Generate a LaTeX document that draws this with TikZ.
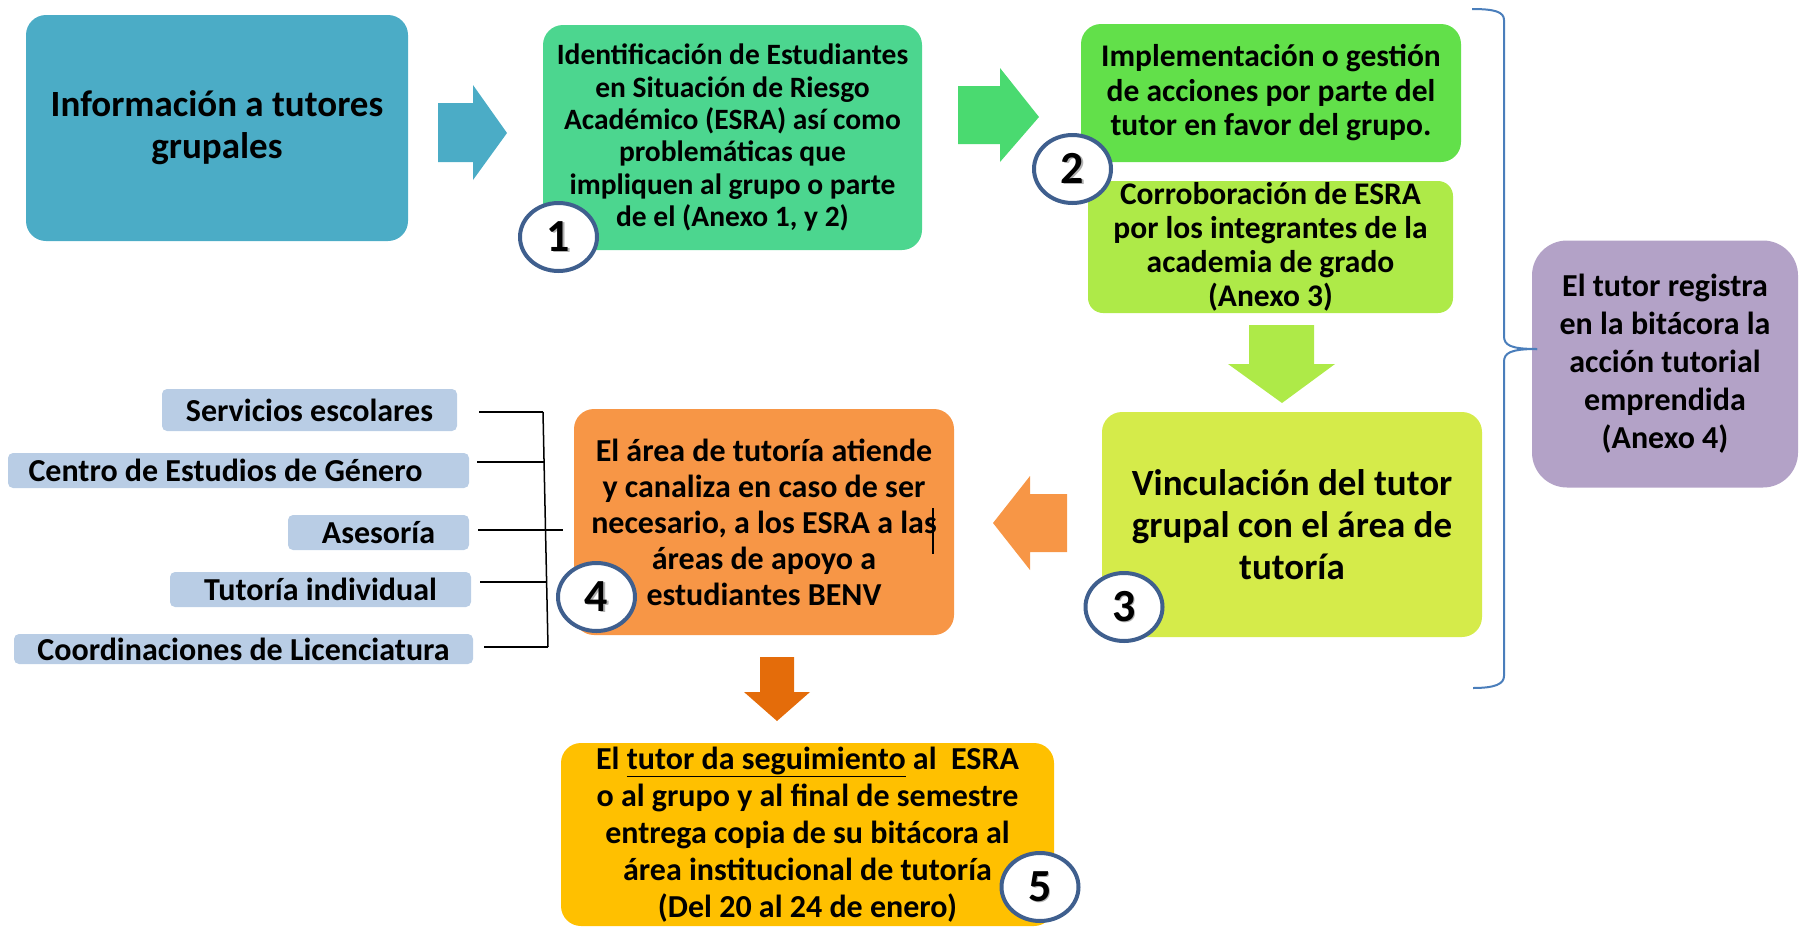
\documentclass[tikz,border=0pt]{standalone}
\usepackage{fontspec}
\setmainfont{Carlito}
\usetikzlibrary{shapes.geometric}
\definecolor{cBlue}{HTML}{4BACC6}
\definecolor{cMint}{HTML}{4CD68F}
\definecolor{cGreen}{HTML}{62E04A}
\definecolor{cLime}{HTML}{AEEA48}
\definecolor{cYellowGreen}{HTML}{D5EB4A}
\definecolor{cOrange}{HTML}{F79646}
\definecolor{cDarkOrange}{HTML}{E46C0A}
\definecolor{cGold}{HTML}{FFC000}
\definecolor{cPurple}{HTML}{B3A2C7}
\definecolor{cPale}{HTML}{B9CDE5}
\definecolor{cRing}{HTML}{3F5F8E}
\definecolor{cBrace}{HTML}{4A7EBB}
\definecolor{cArrowGreen}{HTML}{4ADA70}
\tikzset{
  stepbox/.style={rounded corners=20pt, inner sep=0pt, align=center},
  txtA/.style={font=\bfseries\fontsize{37}{42}\selectfont},
  txtB/.style={font=\bfseries\fontsize{31.5}{34.5}\selectfont},
  sidebox/.style={fill=cPale, rounded corners=5pt, inner sep=0pt,
    font=\bfseries\fontsize{32}{36}\selectfont},
  numring/.style={ellipse, draw=cRing, line width=4pt, fill=white,
    minimum width=77pt, minimum height=68pt, inner sep=0pt,
    font=\bfseries\fontsize{46}{46}\selectfont},
  blockarrow/.style={draw=none},
  tieline/.style={draw=black, line width=1.5pt},
  bracel/.style={draw=cBrace, line width=2pt}
}
\newcommand{\shnum}[1]{\rlap{\hspace{1.5pt}\raisebox{-1.5pt}{\color{black!30}#1}}#1}
\begin{document}
\begin{tikzpicture}[x=1pt,y=-1pt]
\useasboundingbox (0,0) rectangle (1800,927);

% main boxes
\node[stepbox, txtA, fill=cBlue, minimum width=382pt, minimum height=226pt] (info) at (217,128)
  {Información a tutores\\grupales};
\node[stepbox, fill=cMint, minimum width=379pt, minimum height=225pt,
  font=\bfseries\fontsize{29.5}{32.3}\selectfont] (ident) at (732.5,137.5)
  {Identificación de Estudiantes\\en Situación de Riesgo\\Académico (ESRA) así como\\problemáticas que\\impliquen al grupo o parte\\de el (Anexo 1, y 2)};
\node[stepbox, txtB, fill=cGreen, minimum width=380pt, minimum height=138pt] (impl) at (1271,93)
  {Implementación o gestión\\de acciones por parte del\\tutor en favor del grupo.};
\node[stepbox, rounded corners=15pt, fill=cLime, minimum width=365pt, minimum height=132pt,
  font=\bfseries\fontsize{31.5}{34}\selectfont] (corr) at (1270.5,247)
  {Corroboración de ESRA\\por los integrantes de la\\academia de grado\\(Anexo 3)};
\node[stepbox, txtA, fill=cYellowGreen, minimum width=380pt, minimum height=225pt] (vinc) at (1292,524.5)
  {Vinculación del tutor\\grupal con el área de\\tutoría};
\node[stepbox, fill=cOrange, minimum width=380pt, minimum height=226pt,
  font=\bfseries\fontsize{32}{36}\selectfont] (area) at (764,522)
  {El área de tutoría atiende\\y canaliza en caso de ser\\necesario, a los ESRA a las\\áreas de apoyo a\\estudiantes BENV};
\node[stepbox, fill=cGold, minimum width=493pt, minimum height=183pt,
  font=\bfseries\fontsize{32}{37}\selectfont] (segui) at (807.5,834.5)
  {El \underline{tutor da seguimiento} al\ \ ESRA\\o al grupo y al final de semestre\\entrega copia de su bitácora al\\área institucional de tutoría\\(Del 20 al 24 de enero)};
\node[stepbox, rounded corners=35pt, fill=cPurple, minimum width=266pt, minimum height=247pt,
  font=\bfseries\fontsize{32}{38}\selectfont] (regis) at (1665,364)
  {El tutor registra\\en la bitácora la\\acción tutorial\\emprendida\\(Anexo 4)};

% text cursor mark in box 4
\coordinate (curT) at (933,508);
\coordinate (curB) at (933,554);
\draw[line width=1.5pt] (curT) -- (curB);

% side boxes
\node[sidebox, minimum width=295pt, minimum height=42pt] (serv) at (309.5,410) {Servicios escolares};
\node[sidebox, minimum width=461pt, minimum height=35pt] (cent) at (238.5,470.5) {Centro de Estudios de Género\hspace*{26pt}};
\node[sidebox, minimum width=181pt, minimum height=35pt] (ases) at (378.5,532.5) {Asesoría};
\node[sidebox, minimum width=301pt, minimum height=35pt] (tuto) at (320.5,589.5) {Tutoría individual};
\node[sidebox, minimum width=459pt, minimum height=30pt] (coor) at (243.5,649) {Coordinaciones de Licenciatura};

% tie lines
\coordinate (s1) at (479,412); \coordinate (b1) at (543,412);
\coordinate (s2) at (477,462); \coordinate (b2) at (544,462);
\coordinate (s3) at (478,530); \coordinate (b3) at (563,530);
\coordinate (s4) at (480,582); \coordinate (b4) at (546,582);
\coordinate (s5) at (484,647); \coordinate (b5) at (548,647);
\draw[tieline] (s1) -- (b1);
\draw[tieline] (s2) -- (b2);
\draw[tieline] (s3) -- (b3);
\draw[tieline] (s4) -- (b4);
\draw[tieline] (s5) -- (b5);
\draw[tieline] (b1) -- (b5);

% block arrows
\fill[cBlue] (438,103) -- (473,103) -- (473,85) -- (507,133) -- (473,180) -- (473,162) -- (438,162) -- cycle;
\fill[cArrowGreen] (958,86) -- (1000,86) -- (1000,68) -- (1039,117) -- (1000,162) -- (1000,144) -- (958,144) -- cycle;
\fill[cLime] (1249,325) -- (1314,325) -- (1314,364) -- (1335,364) -- (1282,403) -- (1228,364) -- (1249,364) -- cycle;
\fill[cOrange] (1067,494) -- (1030,494) -- (1030,476) -- (993,523) -- (1030,570) -- (1030,552) -- (1067,552) -- cycle;
\fill[cDarkOrange] (760,657) -- (794,657) -- (794,692) -- (810,692) -- (777,721) -- (744,692) -- (760,692) -- cycle;

% brace
\coordinate (brTop) at (1472,9);
\coordinate (brTip) at (1537,349);
\coordinate (brBot) at (1473,688);
\draw[bracel] (brTop) .. controls (1495,9) and (1504,12) .. (1504,20) -- (1504,336)
  .. controls (1504,345) and (1510,349) .. (brTip);
\draw[bracel] (brTip) .. controls (1510,349) and (1504,353) .. (1504,362) -- (1504,676)
  .. controls (1504,684) and (1495,688) .. (brBot);

% number rings
\node[numring] (n1) at (558.5,237) {\shnum{1}};
\node[numring] (n2) at (1072.5,169) {\shnum{2}};
\node[numring] (n3) at (1124,607) {\shnum{3}};
\node[numring] (n4) at (596.5,597) {\shnum{4}};
\node[numring] (n5) at (1040,887) {\shnum{5}};
\end{tikzpicture}
\end{document}
